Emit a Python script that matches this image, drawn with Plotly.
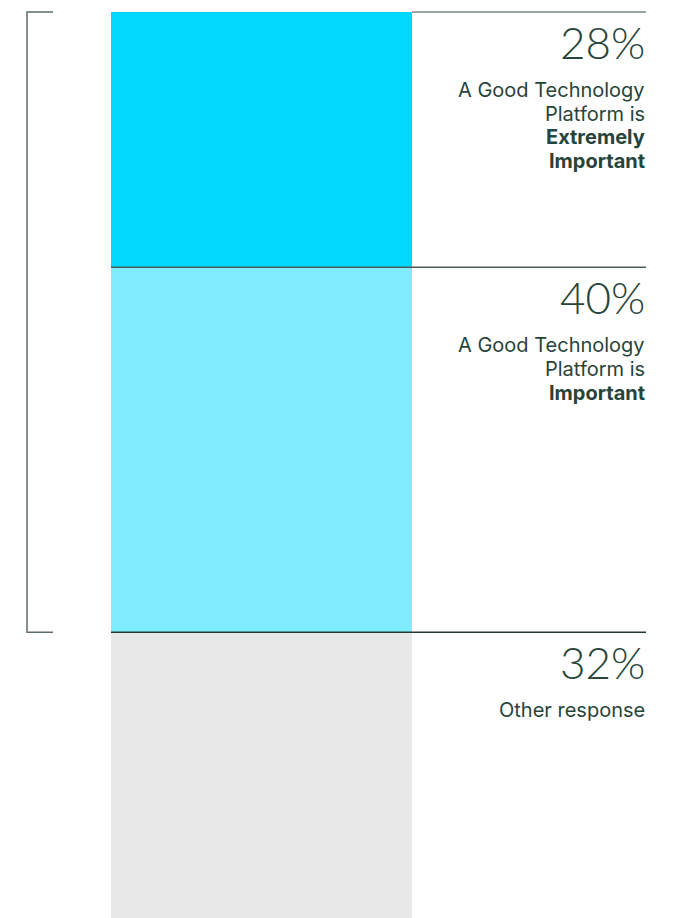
import plotly.graph_objects as go

# ---- data ----
categories = ["Extremely Important", "Important", "Other response"]
values = [28, 40, 32]
pct_labels = ["28%", "40%", "32%"]
body_lines = [
    ["A Good Technology", "Platform is", "<b>Extremely</b>", "<b>Important</b>"],
    ["A Good Technology", "Platform is", "<b>Important</b>"],
    ["Other response"],
]
colors = ["#00D8FF", "#80ECFF", "#E8E8E8"]

# ---- layout geometry (page body has an 8px margin) ----
OFF = 8
W, H = 673 - OFF, 918 - OFF
BAR_L, BAR_R = 111 - OFF, 412 - OFF     # px
TOP_PX = 12 - OFF                       # px where 0% sits
PX_PER_PCT = 9.12
TEXT_R = 646 - OFF                      # px right edge of labels / rules
BRACKET_X, BRACKET_TICK = 27 - OFF, 53 - OFF

px_per_x = BAR_R - BAR_L
x0 = -0.5 - BAR_L / px_per_x
x1 = 0.5 + (W - BAR_R) / px_per_x


def px2x(p):
    return x0 + p / px_per_x


y_top = -TOP_PX / PX_PER_PCT
y_bot = (H - TOP_PX) / PX_PER_PCT

starts = []
acc = 0
for v in values:
    starts.append(acc)
    acc += v

TEXT_COLOR = "#27443A"
FONT = "Inter"

fig = go.Figure()
fig.add_trace(go.Bar(
    x=[0] * len(values), y=values, base=starts, width=1,
    marker=dict(color=colors, line=dict(width=0)),
    hoverinfo="skip", showlegend=False,
))

shapes = []
annotations = []
for i, s in enumerate(starts):
    shapes.append(dict(type="line", xref="x", yref="y",
                       x0=(-0.5 if i > 0 else 0.5), x1=px2x(TEXT_R), y0=s, y1=s,
                       line=dict(color=["#7D8A85", "#4A5E55", "#22392F"][i], width=1.5),
                       layer="above"))
    annotations.append(dict(
        x=px2x(TEXT_R), y=s, xref="x", yref="y", xanchor="right", yanchor="top",
        text=pct_labels[i], showarrow=False, borderpad=0, yshift=-3,
        font=dict(family="Lato", size=44, color=TEXT_COLOR, weight=300),
    ))
    for j, line in enumerate(body_lines[i]):
        annotations.append(dict(
            x=px2x(TEXT_R), y=s, xref="x", yref="y", xanchor="right", yanchor="top",
            text=line, showarrow=False, borderpad=0, yshift=-(65 + 23.7 * j),
            align="right",
            font=dict(family=FONT, size=20, color=TEXT_COLOR),
        ))

br_top = starts[0]
br_bot = starts[1] + values[1]
shapes.append(dict(
    type="path", xref="x", yref="y",
    path=(f"M {px2x(BRACKET_TICK)} {br_top} L {px2x(BRACKET_X)} {br_top} "
          f"L {px2x(BRACKET_X)} {br_bot} L {px2x(BRACKET_TICK)} {br_bot}"),
    line=dict(color="#5E6E67", width=1.5),
))

fig.update_layout(
    width=W, height=H,
    margin=dict(l=0, r=0, t=0, b=0),
    paper_bgcolor="white", plot_bgcolor="white",
    barmode="overlay",
    xaxis=dict(range=[x0, x1], visible=False, fixedrange=True),
    yaxis=dict(range=[y_bot, y_top], visible=False, fixedrange=True),
    shapes=shapes, annotations=annotations,
    showlegend=False,
)

fig.write_html("out.html", config={"displayModeBar": False})
